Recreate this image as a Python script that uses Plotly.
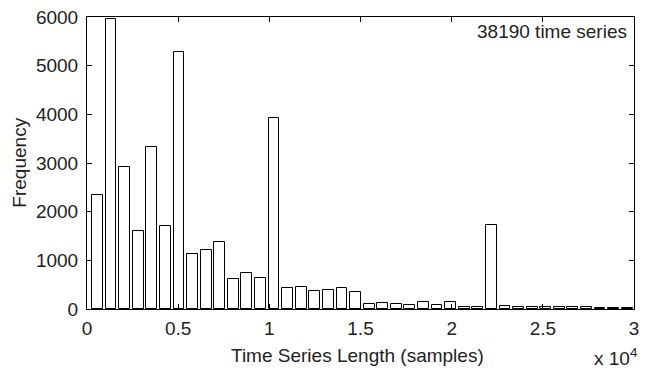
import plotly.graph_objects as go

# Histogram data (MATLAB hist, 40 bins between ~200 and ~30000 samples)
bin_min = 200
bin_width = 745
counts = [2343, 5960, 2927, 1611, 3319, 1712, 5274, 1121, 1214, 1383,
          617, 738, 643, 3935, 427, 448, 375, 387, 435, 355,
          99, 114, 108, 87, 134, 81, 148, 47, 47, 1726,
          67, 47, 47, 47, 34, 40, 34, 27, 20, 27]
centers = [bin_min + bin_width * (k + 0.5) for k in range(len(counts))]

x_tickvals = [0, 5000, 10000, 15000, 20000, 25000, 30000]
x_ticktext = ["0", "0.5", "1", "1.5", "2", "2.5", "3"]
y_tickvals = [0, 1000, 2000, 3000, 4000, 5000, 6000]

FONT = "Liberation Sans, Arial, Helvetica, sans-serif"
TXT = "#222"
FS = 19

L, R, T, B = 87, 7, 11, 61
W, H = 646, 370
PW, PH = W - L - R, H - T - B


def px_x(x):
    return (x - L) / PW


def px_y(y):
    return (H - B - y) / PH


fig = go.Figure()
fig.add_trace(go.Bar(
    x=centers, y=counts, width=bin_width * 0.8,
    marker=dict(color="white", line=dict(color="black", width=1)),
    showlegend=False,
))

axis_common = dict(
    showline=True, linecolor="black", linewidth=1, mirror="ticks",
    ticks="inside", ticklen=5, tickcolor="black", tickwidth=1,
    showgrid=False, zeroline=False,
    tickfont=dict(family=FONT, size=FS, color=TXT),
)

fig.update_layout(
    width=W, height=H,
    margin=dict(l=L, r=R, t=T, b=B),
    paper_bgcolor="white", plot_bgcolor="white",
    bargap=0,
    font=dict(family=FONT, size=FS, color=TXT),
    xaxis=dict(range=[0, 30000], tickvals=x_tickvals, ticktext=x_ticktext,
               ticklabelstandoff=2, **axis_common),
    yaxis=dict(range=[0, 6000], tickvals=y_tickvals,
               ticklabelstandoff=4, **axis_common),
    annotations=[
        dict(text="38190 time series", xref="paper", yref="paper",
             x=px_x(634), y=px_y(26), xanchor="right", yanchor="middle",
             showarrow=False, font=dict(family=FONT, size=FS, color=TXT)),
        dict(text="Time Series Length (samples)", xref="paper", yref="paper",
             x=px_x(360), y=px_y(356), xanchor="center", yanchor="middle",
             showarrow=False, font=dict(family=FONT, size=FS, color=TXT)),
        dict(text="Frequency", xref="paper", yref="paper", textangle=-90,
             x=px_x(18), y=px_y(160), xanchor="center", yanchor="middle",
             showarrow=False, font=dict(family=FONT, size=FS, color=TXT)),
        dict(text="x 10<sup>4</sup>", xref="paper", yref="paper",
             x=px_x(644), y=px_y(358), xanchor="right", yanchor="middle",
             showarrow=False, font=dict(family=FONT, size=FS, color=TXT)),
    ],
)

fig.write_html("out.html")
